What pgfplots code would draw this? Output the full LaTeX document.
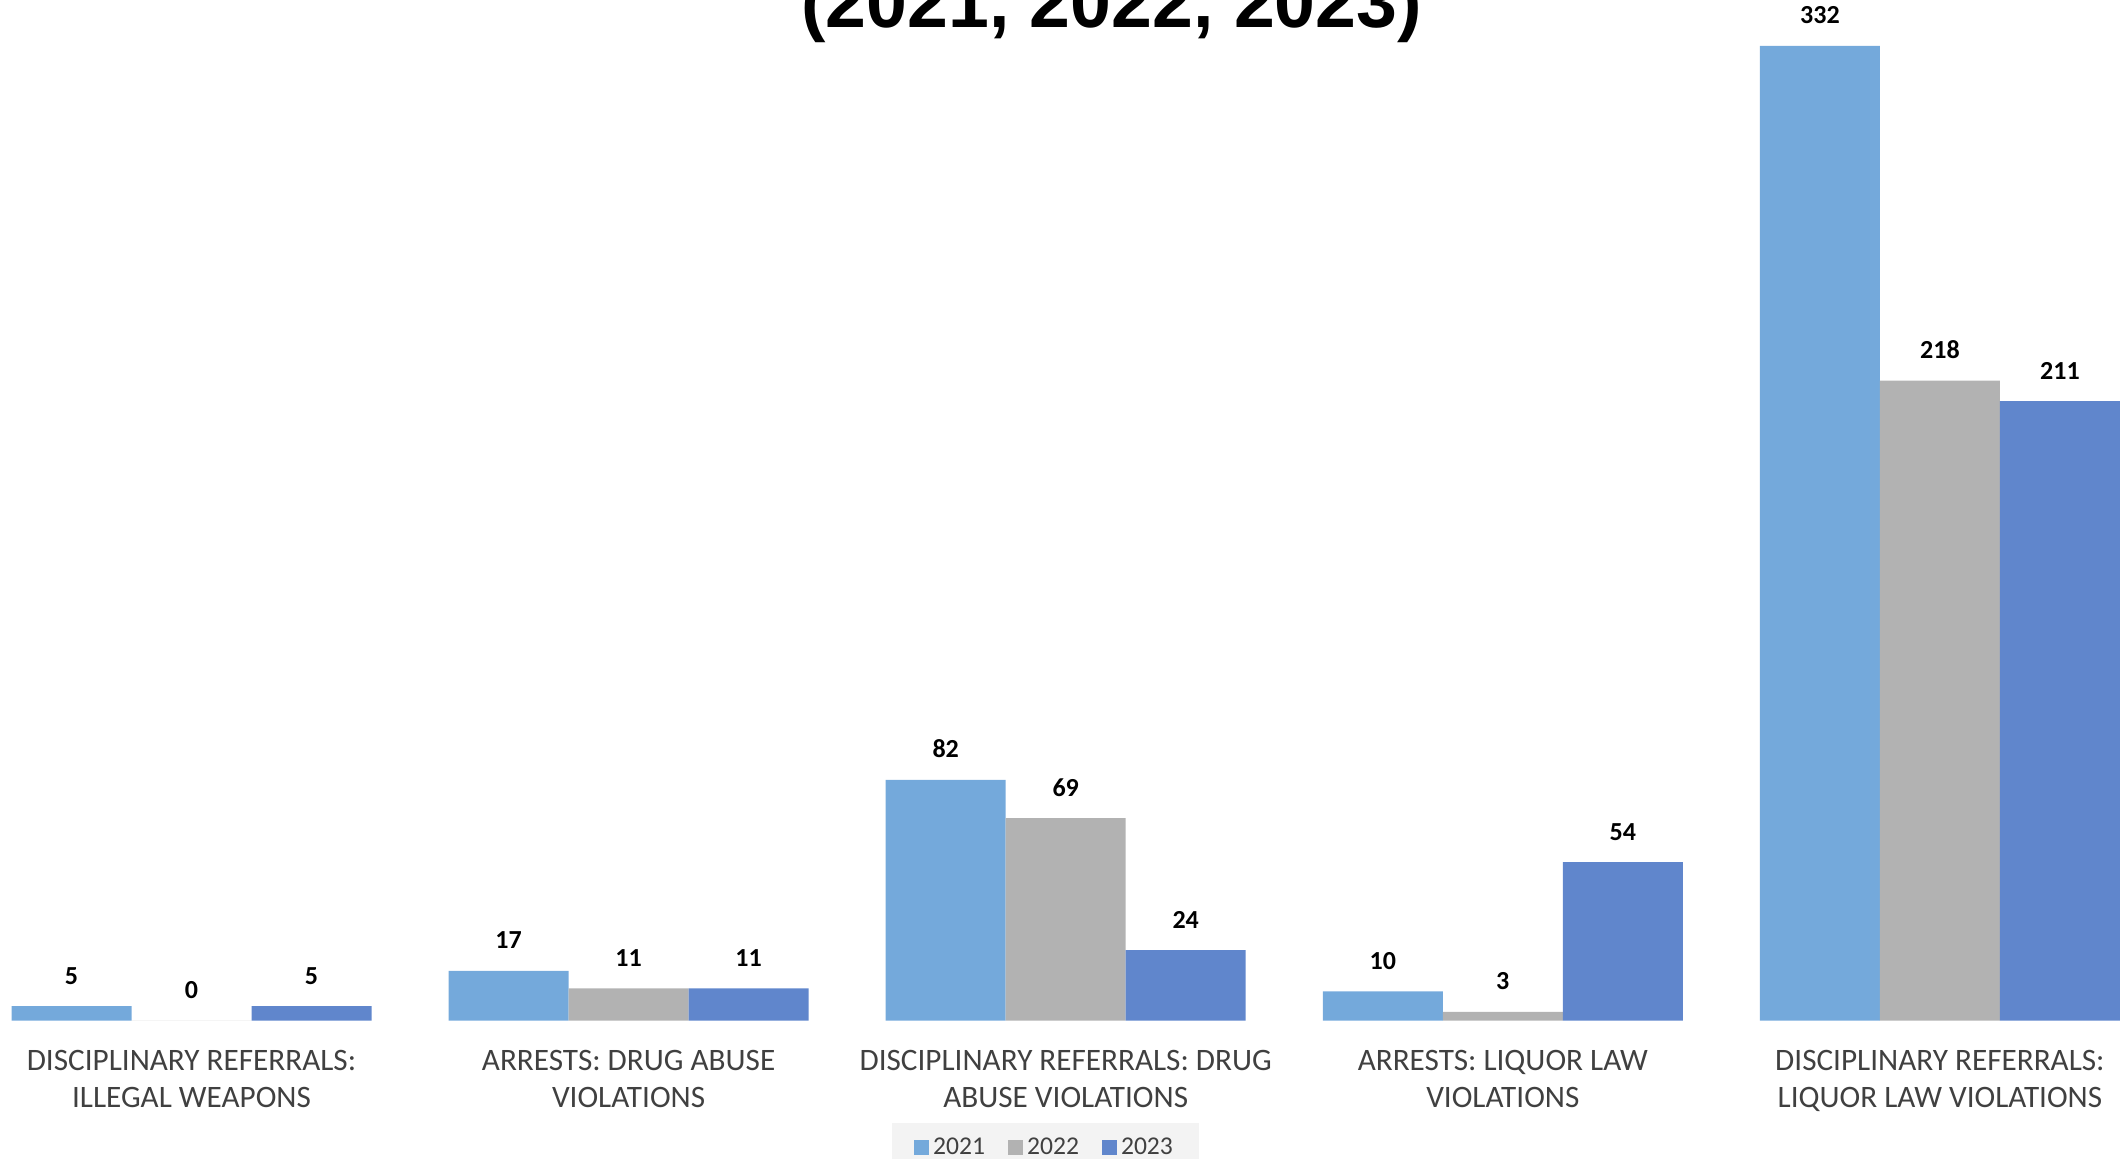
\documentclass[border=0pt]{standalone}
\usepackage{pgfplots}
\pgfplotsset{compat=1.18}
\usepackage{fontspec}
\setmainfont{Carlito}
\newfontfamily\titlefont{Liberation Sans}
\definecolor{cA}{RGB}{116,169,219}
\definecolor{cB}{RGB}{178,178,178}
\definecolor{cC}{RGB}{96,134,204}
\definecolor{lblgray}{RGB}{64,64,64}
\definecolor{legbg}{RGB}{243,243,243}
\begin{document}
\begin{tikzpicture}
\path[use as bounding box] (0pt,0pt) rectangle (1061.5pt,579.5pt);
\clip (0pt,0pt) rectangle (1061.5pt,579.5pt);
\begin{axis}[
  at={(0pt,69.15pt)}, anchor=south west,
  scale only axis, width=1061.5pt, height=510.35pt,
  xmin=-0.43812, xmax=4.41890, ymin=0, ymax=347.65,
  enlargelimits=false, clip=false,
  ybar=0pt, bar width=60pt,
  axis line style={draw=none}, major tick length=0pt,
  ytick=\empty,
  xtick={0,1,2,3,4},
  xticklabels={{DISCIPLINARY REFERRALS:\\ILLEGAL WEAPONS},
               {ARRESTS: DRUG ABUSE\\VIOLATIONS},
               {DISCIPLINARY REFERRALS: DRUG\\ABUSE VIOLATIONS},
               {ARRESTS: LIQUOR LAW\\VIOLATIONS},
               {DISCIPLINARY REFERRALS:\\LIQUOR LAW VIOLATIONS}},
  xticklabel style={anchor=north, inner sep=0pt, yshift=-14.5pt, align=center,
     text=lblgray, font=\fontsize{15.6pt}{18.5pt}\selectfont},
  /pgf/number format/assume math mode=true,
  nodes near coords,
  every node near coord/.append style={anchor=base, yshift=11pt, text=black,
     font=\fontsize{13pt}{15pt}\selectfont\bfseries},
  legend columns=3,
  legend image code/.code={\fill[#1] (0pt,-3.75pt) rectangle (7.5pt,3.75pt);},
  legend style={at={(0.4925,-0.0999)}, anchor=north, fill=legbg, draw=none,
     text=lblgray, font=\fontsize{12.8pt}{15pt}\selectfont,
     inner xsep=11pt, inner ysep=5.5pt,
     /tikz/every even column/.append style={column sep=9.5pt}},
]
\addplot[fill=cA, draw=none] coordinates {(0,5) (1,17) (2,82) (3,10) (4,332)};
\addplot[fill=cB, draw=none] coordinates {(0,0) (1,11) (2,69) (3,3) (4,218)};
\addplot[fill=cC, draw=none] coordinates {(0,5) (1,11) (2,24) (3,54) (4,211)};
\legend{2021,2022,2023}
\end{axis}
\node[anchor=base, inner sep=0pt, font=\titlefont\fontsize{36.7pt}{40pt}\selectfont\bfseries] at (555.85pt,565.65pt) {(2021, 2022, 2023)};
\end{tikzpicture}
\end{document}
